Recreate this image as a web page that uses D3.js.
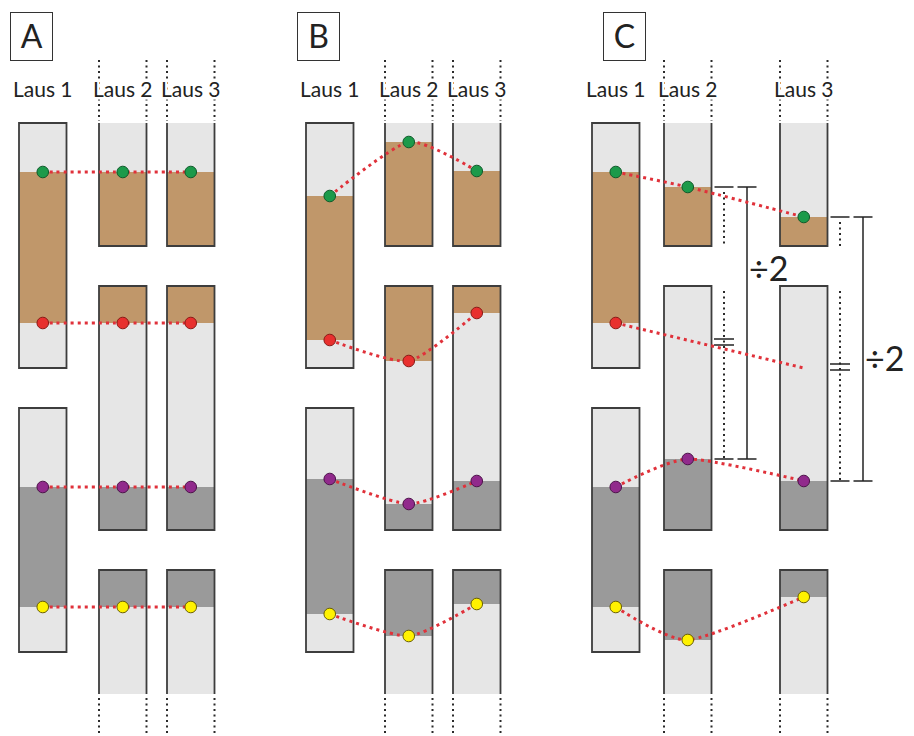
<!DOCTYPE html>
<html><head><meta charset="utf-8">
<script src="https://cdn.jsdelivr.net/npm/d3@7"></script>
<style>body{margin:0;background:#fff}svg{display:block}</style>
</head><body>
<script>
// ---------- DATA ----------
const panelLetters = ["A", "B", "C"];
const lausNames = ["Laus 1", "Laus 2", "Laus 3"];
// chromosome segments (position units along the tube)
const segmentsLaus1 = [[0, 245], [285, 529]];
const segmentsLaus23 = [[0, 123], [163, 407], [447, 571]];
// marker positions per panel [Laus1, Laus2, Laus3]
const greenPos  = [[49, 49, 49], [73, 19, 48], [49, 64, 94]];
const redPos    = [[200, 200, 200], [217, 238, 190], [200, null, 245]];
const redDot    = [[1, 1, 1], [1, 1, 1], [1, 0, 0]];
const brownEnd  = [[200, 200, 200], [217, 238, 190], [200, 143, 143]];
const purplePos = [[364, 364, 364], [356, 381, 358], [364, 336, 358]];
const yellowPos = [[484, 484, 484], [491, 513, 481], [484, 517, 474]];
// panel C brackets
const bracketLaus = [1, 2];
const bracketMid = [219, 244];
const bracketLabel = "÷2";

// ---------- LAYOUT ----------
const W = 914, H = 736;
const colLeft = [[19, 99, 167], [306, 385, 453], [592, 664, 780]];
const colW = 47.5;
const boxX = [10, 297, 603];
const y = d3.scaleLinear().domain([0, 571]).range([123, 694]);
const COL = {light: "#e6e6e6", brown: "#c0976a", dark: "#9a9a9a", border: "#3d3d3d", dotted: "#2a2a2a"};
const markers = [
  {vals: greenPos, fill: "#1c9a4a", stroke: "#0e5a2a", show: null},
  {vals: redPos, fill: "#e8302e", stroke: "#8a1a16", show: redDot},
  {vals: purplePos, fill: "#912a8c", stroke: "#4d124a", show: null},
  {vals: yellowPos, fill: "#fff200", stroke: "#6b6000", show: null}
];
const FONT = "Lato, 'Open Sans', sans-serif";

const svg = d3.select("body").append("svg").attr("width", W).attr("height", H);

function vdots(g, x, y0, y1) {
  g.append("line").attr("x1", x).attr("x2", x).attr("y1", y0).attr("y2", y1)
    .attr("stroke", COL.dotted).attr("stroke-width", 2).attr("stroke-dasharray", "2,3.5");
}

panelLetters.forEach((letter, p) => {
  const g = svg.append("g");
  // letter box
  g.append("rect").attr("x", boxX[p] + 0.5).attr("y", 12.5).attr("width", 42).attr("height", 48)
    .attr("fill", "#fff").attr("stroke", "#333").attr("stroke-width", 1);
  g.append("text").attr("x", boxX[p] + 21.5).attr("y", 48).attr("text-anchor", "middle")
    .attr("font-family", FONT).attr("font-size", 32).attr("fill", "#222").text(letter);

  const cx = i => colLeft[p][i] + colW / 2;

  lausNames.forEach((name, i) => {
    const x0 = colLeft[p][i], x1 = x0 + colW;
    const segs = i === 0 ? segmentsLaus1 : segmentsLaus23;
    const bands = [
      [0, greenPos[p][i], COL.light],
      [greenPos[p][i], brownEnd[p][i], COL.brown],
      [brownEnd[p][i], purplePos[p][i], COL.light],
      [purplePos[p][i], yellowPos[p][i], COL.dark],
      [yellowPos[p][i], 571, COL.light]
    ];
    segs.forEach((s, k) => {
      bands.forEach(b => {
        const a = Math.max(s[0], b[0]), e = Math.min(s[1], b[1]);
        if (e > a) g.append("rect").attr("x", x0).attr("y", y(a)).attr("width", colW)
          .attr("height", y(e) - y(a)).attr("fill", b[2]);
      });
      const t = y(s[0]), bt = y(s[1]);
      let d;
      if (i === 0 || k === 1) d = `M${x0},${t}L${x1},${t}L${x1},${bt}L${x0},${bt}Z`;
      else if (k === 0) d = `M${x0},${t}L${x0},${bt}L${x1},${bt}L${x1},${t}`;
      else d = `M${x0},${bt}L${x0},${t}L${x1},${t}L${x1},${bt}`;
      g.append("path").attr("d", d).attr("fill", "none").attr("stroke", COL.border).attr("stroke-width", 1.8);
    });
    if (i > 0) {
      [x0, x1].forEach(x => {
        vdots(g, x, 60, y(0) - 2);
        vdots(g, x, y(571) + 4, H);
      });
    }
  });
  // labels (with white halo to interrupt dotted lines)
  lausNames.forEach((name, i) => {
    g.append("text").attr("x", cx(i)).attr("y", 97).attr("text-anchor", "middle")
      .attr("font-family", FONT).attr("font-size", 21).attr("fill", "#222")
      .attr("stroke", "#fff").attr("stroke-width", 5).attr("paint-order", "stroke")
      .text(name);
  });

  // panel C brackets
  if (p === 2) {
    bracketLaus.forEach((i, j) => {
      const xr = colLeft[p][i] + colW;
      const xd = xr + 12.5, xs = xr + 35.5;
      const top = greenPos[p][i], bot = purplePos[p][i];
      segmentsLaus23.forEach(s => {
        const a = Math.max(s[0], top), e = Math.min(s[1], bot);
        if (e > a) vdots(g, xd, y(a) + 5, y(e));
      });
      [top, bot].forEach(v => {
        g.append("line").attr("x1", xd - 9.5).attr("x2", xd + 9.5).attr("y1", y(v)).attr("y2", y(v))
          .attr("stroke", "#222").attr("stroke-width", 1.5);
        g.append("line").attr("x1", xs - 9.5).attr("x2", xs + 9.5).attr("y1", y(v)).attr("y2", y(v))
          .attr("stroke", "#222").attr("stroke-width", 1.5);
      });
      g.append("line").attr("x1", xs).attr("x2", xs).attr("y1", y(top)).attr("y2", y(bot))
        .attr("stroke", "#222").attr("stroke-width", 1.5);
      [-3, 3].forEach(off => g.append("line").attr("x1", xd - 10).attr("x2", xd + 10)
        .attr("y1", y(bracketMid[j]) + off).attr("y2", y(bracketMid[j]) + off)
        .attr("stroke", "#222").attr("stroke-width", 1.5));
      const ly = j === 0 ? 281 : 371;
      g.append("text").attr("x", xs + 2).attr("y", ly).attr("font-family", FONT)
        .attr("font-size", 34).attr("fill", "#222").text(bracketLabel);
    });
  }

  // connectors
  const line = d3.line().curve(d3.curveCardinal.tension(0.35));
  markers.forEach(m => {
    const pts = m.vals[p].map((v, i) => v == null ? null : [cx(i), y(v)]).filter(d => d);
    g.append("path").attr("d", line(pts)).attr("fill", "none").attr("stroke", "#e0313a")
      .attr("stroke-width", 3).attr("stroke-dasharray", "3,4");
  });
  markers.forEach(m => {
    m.vals[p].forEach((v, i) => {
      if (v == null) return;
      if (m.show && !m.show[p][i]) return;
      g.append("circle").attr("cx", cx(i)).attr("cy", y(v)).attr("r", 5.8)
        .attr("fill", m.fill).attr("stroke", m.stroke).attr("stroke-width", 1);
    });
  });
});
</script>
</body></html>
